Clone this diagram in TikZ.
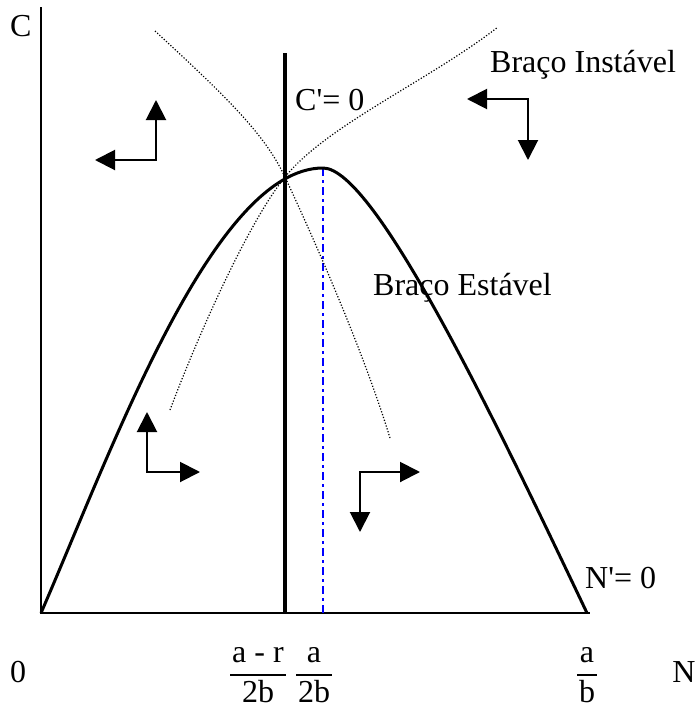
\documentclass[tikz,border=0pt]{standalone}
\usepackage{fontspec}
\setmainfont{Liberation Serif}[Ligatures=TeXOff]
\usetikzlibrary{arrows.meta}
\setlength{\arrayrulewidth}{1.5pt}
\newcommand{\fr}[2]{\begin{tabular}{@{\hspace{2pt}}c@{\hspace{2pt}}}#1\\ \hline #2\end{tabular}}

\begin{document}
\begin{tikzpicture}[x=1pt, y=-1pt,
    axis/.style={line width=2pt},
    nullcline/.style={line width=3.5pt},
    hump/.style={line width=3pt, line join=round},
    orbit/.style={line width=1.2pt, dash pattern=on 1.2pt off 1.8pt},
    guide/.style={blue, line width=1.5pt, dash pattern=on 8pt off 4pt on 3pt off 4pt},
    flow/.style={{Triangle[length=20pt, width=20pt]}-{Triangle[length=20pt, width=20pt]}, line width=2pt},
    lbl/.style={font=\fontsize{32}{38}\selectfont, inner sep=0pt}
]
\useasboundingbox (0,0) rectangle (698,710);

% Axes
\coordinate (ytop) at (41,7);
\coordinate (origin) at (41,613);
\coordinate (xend) at (590,613);
\draw[axis] (ytop) -- (origin) -- (xend);

% C' = 0 and the peak
\coordinate (cntop) at (285,53);
\coordinate (cnbot) at (285,613);
\draw[nullcline] (cntop) -- (cnbot);
\coordinate (peak) at (323,168);
\coordinate (peakbot) at (323,613);
\draw[guide] (peak) -- (peakbot);

% N' = 0
\coordinate (nend) at (587,613);
\draw[hump] (origin) .. controls (111,452) and (213,168) .. (peak)
    .. controls (375,168) and (497,424) .. (nend);

% Saddle paths
\coordinate (cross) at (285,177);
\draw[orbit] (155,31) .. controls (230,100) and (265,135) .. (cross)
    .. controls (305,220) and (360,340) .. (390,438);
\draw[orbit] (170,410) .. controls (200,330) and (250,220) .. (cross)
    .. controls (327,125) and (430,80) .. (498,27);

% Phase arrows
\coordinate (nw) at (156,160);
\draw[flow] (nw) ++(0,-60) -- (nw) -- ++(-61,0);
\coordinate (ne) at (528,99);
\draw[flow] (ne) ++(-61,0) -- (ne) -- ++(0,61);
\coordinate (sw) at (147,472);
\draw[flow] (sw) ++(0,-60) -- (sw) -- ++(53,0);
\coordinate (se) at (360,472);
\draw[flow] (se) ++(60,0) -- (se) -- ++(0,60);

% Labels
\node[lbl, anchor=base west] (clabel) at (10,36) {C};
\node[lbl, anchor=base west] (cnull) at (295,110) {C'= 0};
\node[lbl, anchor=base west] (unstable) at (490,72) {Braço Instável};
\node[lbl, anchor=base west] (stable) at (373,295) {Braço Estável};
\node[lbl, anchor=base west] (nnull) at (585,588) {N'= 0};
\node[lbl] (zero) at (18,672) {0};
\node[lbl] (nlabel) at (684,672) {N};
\node[lbl] (fr1) at (258,675) {\fr{a - r}{2b}};
\node[lbl] (fr2) at (314,675) {\fr{a}{2b}};
\node[lbl] (fr3) at (587,675) {\fr{a}{b}};

\end{tikzpicture}
\end{document}
